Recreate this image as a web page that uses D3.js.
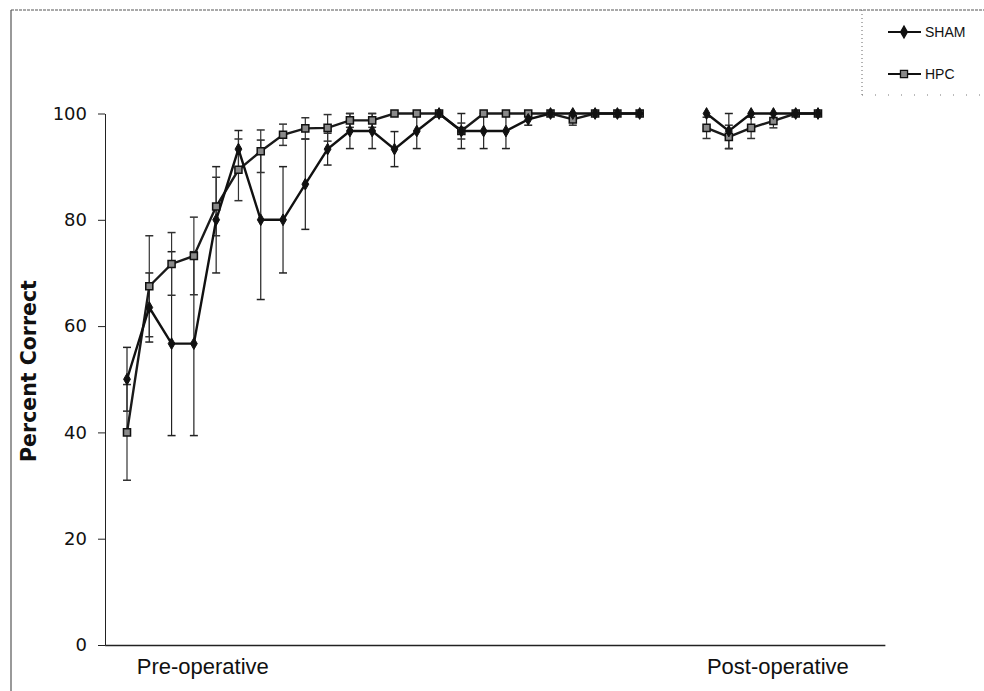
<!DOCTYPE html>
<html>
<head>
<meta charset="utf-8">
<script src="https://cdn.jsdelivr.net/npm/d3@7"></script>
<style>
  body { margin: 0; background: #fff; }
  svg { display: block; }
</style>
</head>
<body>
<div id="chart"></div>
<script>
// session slots: 0-23 pre-operative, 26-31 post-operative (24,25 are the gap)
var sessions = [0,1,2,3,4,5,6,7,8,9,10,11,12,13,14,15,16,17,18,19,20,21,22,23,26,27,28,29,30,31];

var shamMean = [50, 63.5, 56.7, 56.7, 80, 93.3, 80, 80, 86.7, 93.3, 96.7, 96.7, 93.3, 96.7, 100, 96.7, 96.7, 96.7, 98.9, 100, 100, 100, 100, 100,
                100, 96.7, 100, 100, 100, 100];
var shamErr  = [6, 6.5, 17.3, 17.3, 10, 3.5, 15, 10, 8.5, 3, 3.3, 3.3, 3.3, 3.3, 0, 3.3, 3.3, 3.3, 1.1, 0, 0, 0, 0, 0,
                0, 3.3, 0, 0, 0, 0];
var hpcMean  = [40, 67.5, 71.7, 73.2, 82.5, 89.4, 92.9, 96, 97.2, 97.3, 98.7, 98.7, 100, 100, 100, 96.7, 100, 100, 100, 100, 98.9, 100, 100, 100,
                97.3, 95.6, 97.3, 98.6, 100, 100];
var hpcErr   = [9, 9.5, 5.9, 7.3, 5.5, 5.8, 4, 2, 2, 2.5, 1.3, 1.3, 0, 0, 0, 1.5, 0, 0, 0, 0, 1.1, 0, 0, 0,
                2, 2.2, 2, 1.3, 0, 0];

var yTicks = [0, 20, 40, 60, 80, 100];
var seriesNames = ['SHAM', 'HPC'];
var periodLabels = ['Pre-operative', 'Post-operative'];

var W = 984, H = 691;

var svg = d3.select('#chart').append('svg')
    .attr('width', W)
    .attr('height', H);

// scanned page border
svg.append('line').attr('x1', 11).attr('x2', 11).attr('y1', 10).attr('y2', H)
    .style('stroke', '#555').style('stroke-width', 1.2);
svg.append('line').attr('x1', 11).attr('x2', W).attr('y1', 10).attr('y2', 10)
    .style('stroke', '#555').style('stroke-width', 1.2).style('stroke-dasharray', '3,1');

var x = d3.scaleLinear().domain([0, 31]).range([127, 818]);
var y = d3.scaleLinear().domain([0, 100]).range([645, 113.5]);

// y axis
var yAxis = svg.append('g')
    .attr('transform', 'translate(105,0)')
    .call(d3.axisLeft(y).tickValues(yTicks).tickSize(7).tickSizeOuter(0).tickPadding(11));
yAxis.selectAll('text')
    .style('font-family', 'DejaVu Sans, Verdana, sans-serif')
    .style('font-size', '18px')
    .style('fill', '#111');
yAxis.selectAll('line, path').style('stroke', '#222');

// x axis line only
var xa = d3.scaleLinear().domain([-1, 34]).range([x(-1), x(34)]);
var xAxis = svg.append('g')
    .attr('transform', 'translate(0,' + y(0) + ')')
    .call(d3.axisBottom(xa).tickValues([]).tickSizeOuter(0));
xAxis.select('path').style('stroke', '#222').style('stroke-width', 1.3);

svg.selectAll('.period')
    .data(periodLabels)
    .enter().append('text')
    .attr('class', 'period')
    .attr('x', function(d, i) { return x(i === 0 ? 3.4 : 29.2); })
    .attr('y', 674)
    .attr('text-anchor', 'middle')
    .style('font-family', 'Liberation Sans, Arial, sans-serif')
    .style('font-size', '22px')
    .style('fill', '#111')
    .text(function(d) { return d; });

svg.append('text')
    .attr('transform', 'translate(36,371) rotate(-90)')
    .attr('text-anchor', 'middle')
    .style('font-family', 'DejaVu Sans, Verdana, sans-serif')
    .style('font-weight', 'bold')
    .style('font-size', '20.5px')
    .style('fill', '#111')
    .text('Percent Correct');

function rows(means, errs) {
  return sessions.map(function(s, i) { return { s: s, m: means[i], e: errs[i] }; });
}
var sham = rows(shamMean, shamErr);
var hpc = rows(hpcMean, hpcErr);

// error bars
function drawErr(data, color) {
  var g = svg.append('g');
  var d2 = data.filter(function(d) { return d.e > 0; });
  g.selectAll('.v').data(d2).enter().append('line')
    .attr('x1', function(d) { return x(d.s); }).attr('x2', function(d) { return x(d.s); })
    .attr('y1', function(d) { return y(d.m + d.e); }).attr('y2', function(d) { return y(d.m - d.e); })
    .style('stroke', color).style('stroke-width', 1.2);
  [1, -1].forEach(function(sign) {
    g.selectAll('.c' + sign).data(d2).enter().append('line')
      .attr('x1', function(d) { return x(d.s) - 4; }).attr('x2', function(d) { return x(d.s) + 4; })
      .attr('y1', function(d) { return y(d.m + sign * d.e); }).attr('y2', function(d) { return y(d.m + sign * d.e); })
      .style('stroke', color).style('stroke-width', 1.5);
  });
}
drawErr(sham, '#222');
drawErr(hpc, '#333');

var line = d3.line()
    .x(function(d) { return x(d.s); })
    .y(function(d) { return y(d.m); });

function segments(data) {
  return [data.filter(function(d) { return d.s < 24; }), data.filter(function(d) { return d.s > 25; })];
}

svg.selectAll('.hpcLine').data(segments(hpc)).enter().append('path')
    .attr('d', line)
    .style('fill', 'none').style('stroke', '#1a1a1a').style('stroke-width', 2.4);
svg.selectAll('.shamLine').data(segments(sham)).enter().append('path')
    .attr('d', line)
    .style('fill', 'none').style('stroke', '#111').style('stroke-width', 2.4);

var diamond = d3.symbol().type(d3.symbolDiamond).size(40);
var square = d3.symbol().type(d3.symbolSquare).size(50);

svg.selectAll('.hpcPt').data(hpc).enter().append('path')
    .attr('transform', function(d) { return 'translate(' + x(d.s) + ',' + y(d.m) + ')'; })
    .attr('d', square)
    .style('fill', '#8a8a8a').style('stroke', '#111').style('stroke-width', 1.5);
svg.selectAll('.shamPt').data(sham).enter().append('path')
    .attr('transform', function(d) { return 'translate(' + x(d.s) + ',' + y(d.m) + ')'; })
    .attr('d', diamond)
    .style('fill', '#111').style('stroke', '#111').style('stroke-width', 1);

// legend
var lg = svg.append('g');
lg.append('line').attr('x1', 862).attr('x2', 862).attr('y1', 10).attr('y2', 95)
    .style('stroke', '#666').style('stroke-dasharray', '1,3');
lg.append('line').attr('x1', 862).attr('x2', W).attr('y1', 95).attr('y2', 95)
    .style('stroke', '#777').style('stroke-dasharray', '1,12');
var items = lg.selectAll('.item').data(seriesNames).enter().append('g')
    .attr('transform', function(d, i) { return 'translate(0,' + (32 + i * 42) + ')'; });
items.append('line').attr('x1', 888).attr('x2', 921).attr('y1', 0).attr('y2', 0)
    .style('stroke', '#111').style('stroke-width', 2);
items.append('path')
    .attr('transform', 'translate(904,0)')
    .attr('d', function(d, i) { return i === 0 ? diamond() : square(); })
    .style('fill', function(d, i) { return i === 0 ? '#111' : '#8a8a8a'; })
    .style('stroke', '#111').style('stroke-width', 1.3);
items.append('text')
    .attr('x', 925).attr('y', 5)
    .style('font-family', 'Liberation Sans, Arial, sans-serif')
    .style('font-size', '14px')
    .style('fill', '#111')
    .text(function(d) { return d; });
</script>
</body>
</html>
